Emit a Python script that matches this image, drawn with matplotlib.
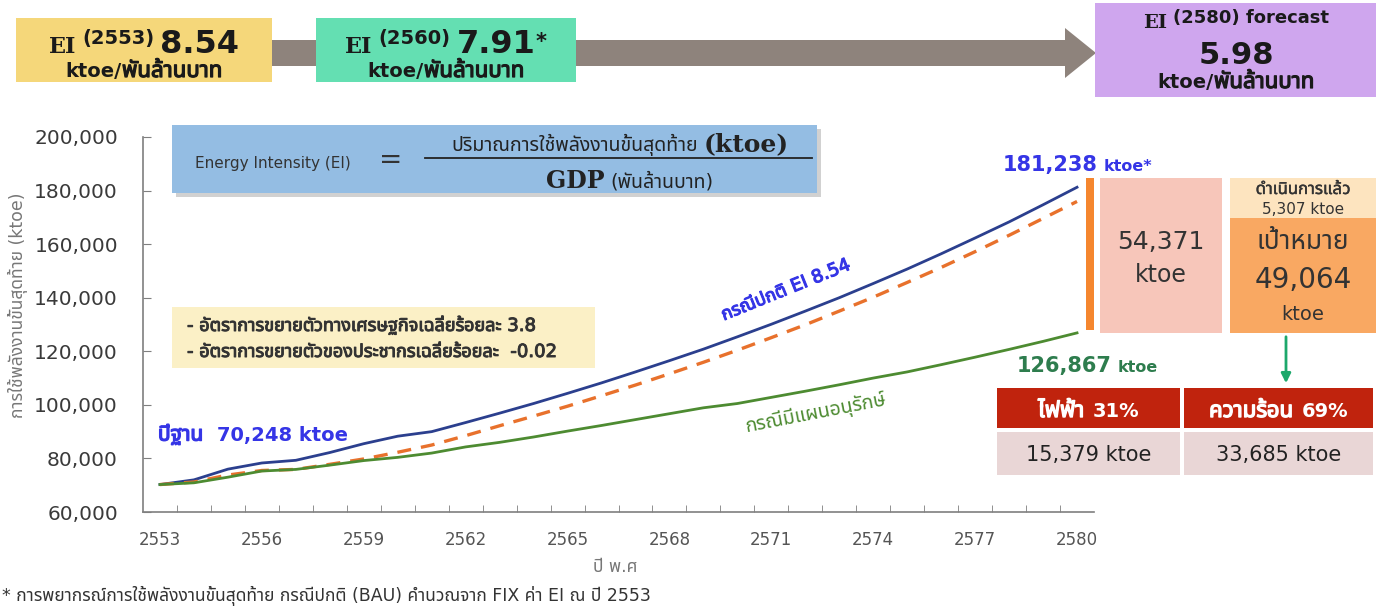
import matplotlib
matplotlib.use('Agg')
import numpy as np
import matplotlib.pyplot as plt
import matplotlib.font_manager as fm
import matplotlib.patheffects as pe
from matplotlib.ft2font import FT2Font
from matplotlib.patches import Rectangle, Polygon
from matplotlib.ticker import FuncFormatter

# data (ktoe per year, Thai Buddhist calendar)
years = list(range(2553, 2581))
bau = [70248, 72000, 76000, 78300, 79300, 82200, 85500, 88300, 90000, 93400,
       96900, 100500, 104300, 108200, 112300, 116500, 120800, 125400, 130100, 135000,
       140000, 145300, 150700, 156400, 162300, 168300, 174700, 181238]
target = [70248, 71200, 73800, 75500, 75900, 77800, 79800, 82300, 85000, 88500,
          92200, 95800, 99500, 103400, 107400, 111600, 115900, 120400, 125100, 129900,
          135000, 140200, 145700, 151300, 157200, 163300, 169600, 175931]
plan = [70248, 70900, 73000, 75300, 75900, 77500, 79200, 80400, 82000, 84300,
        86000, 88000, 90200, 92300, 94500, 96700, 98900, 100500, 102800, 105100,
        107500, 110000, 112300, 115000, 117800, 120700, 123700, 126867]

ei_values = ['8.54', '7.91', '5.98']
ei_years = ['2553', '2560', '2580']
saving_total = 54371
saving_done = 5307
saving_goal = 49064
split_labels = ['ไฟฟ้า', 'ความร้อน']
split_shares = ['31%', '69%']
split_values = [15379, 33685]


def find_thai():
    names = []
    for f in fm.fontManager.ttflist:
        try:
            if 0x0E01 in FT2Font(f.fname).get_charmap():
                names.append(f.name)
        except Exception:
            pass
    for pref in ['Noto Sans Thai', 'Noto Sans Thai UI', 'Loma', 'Tahoma', 'Garuda',
                 'Sarabun', 'Kinnari', 'Norasi', 'Noto Serif Thai']:
        if pref in names:
            return pref
    return names[0] if names else None


thai = find_thai()
SANS = ['DejaVu Sans'] + ([thai] if thai else [])
SERIF = ['DejaVu Serif'] + ([thai] if thai else [])
plt.rcParams['font.family'] = SANS

W, H = 1384, 607
fig = plt.figure(figsize=(W / 100, H / 100), dpi=100)
fig.patch.set_facecolor('white')

# main chart
ax = fig.add_axes([143 / W, 1 - 512 / H, 951 / W, 375 / H])
ax.patch.set_alpha(0)
ax.plot(years, bau, color='#2B3F8E', lw=2.0, zorder=3)
ax.plot(years, target, color='#E8712C', lw=2.4, ls=(0, (4.2, 3)), zorder=3)
ax.plot(years, plan, color='#4D8B31', lw=2.0, zorder=3)
ax.set_xlim(2552.5, 2580.5)
ax.set_ylim(60000, 200000)
ax.set_yticks(range(60000, 200001, 20000))
ax.yaxis.set_major_formatter(FuncFormatter(lambda v, p: f'{v:,.0f}'))
ax.set_xticks(range(2553, 2581, 3))
ax.set_xticks(np.arange(2553.5, 2580.5, 1), minor=True)
ax.tick_params(axis='x', which='major', length=0, pad=14, labelsize=12, labelcolor='#555555')
ax.tick_params(axis='x', which='minor', direction='in', length=5, color='#7f7f7f')
ax.tick_params(axis='y', direction='in', length=6, color='#7f7f7f', pad=18,
               labelsize=14.5, labelcolor='#3a3a3a')
for s in ['top', 'right']:
    ax.spines[s].set_visible(False)
for s in ['left', 'bottom']:
    ax.spines[s].set_color('#7f7f7f')
    ax.spines[s].set_linewidth(1.2)

# overlay in pixel coordinates
ov = fig.add_axes([0, 0, 1, 1], zorder=5)
ov.set_xlim(0, W)
ov.set_ylim(H, 0)
ov.axis('off')
ov.patch.set_alpha(0)


def fake_bold(color, w=0.8):
    return [pe.withStroke(linewidth=w, foreground=color)]


def chain(x, y, parts, ha='left', **kw):
    r = fig.canvas.get_renderer()
    objs = []
    total = 0
    for s, opts in parts:
        o = {**kw, **opts}
        dy = o.pop('dy', 0)
        gap = o.pop('gap', 0)
        fb = o.pop('fb', 0)
        if fb:
            o['path_effects'] = fake_bold(o.get('color', 'black'), fb)
        t = ov.text(0, y - dy, s, va='baseline', ha='left', **o)
        w = t.get_window_extent(r).width
        objs.append((t, gap, w))
        total += gap + w
    if ha == 'center':
        x -= total / 2
    elif ha == 'right':
        x -= total
    for t, gap, w in objs:
        x += gap
        t.set_x(x)
        x += w


def box(x0, y0, x1, y1, color, **kw):
    ov.add_patch(Rectangle((x0, y0), x1 - x0, y1 - y0, facecolor=color, edgecolor='none', **kw))


def to_px(x, y):
    px, py = ax.transData.transform((x, y))
    return px, H - py


unit = [('ktoe/', dict(size=14, weight='bold')), ('พันล้านบาท', dict(size=16, fb=0.9))]

# top arrow and EI boxes
ov.add_patch(Polygon([(272, 40), (1065, 40), (1065, 28), (1096, 53), (1065, 78), (1065, 66), (272, 66)],
                     closed=True, facecolor='#8E837C', edgecolor='none'))
box(16, 18, 272, 82, '#F5D77A')
box(316, 18, 576, 82, '#64DFB2')
box(1095, 3, 1376, 97, '#CFA6EE')
for cx, yr, val, star in [(144, ei_years[0], ei_values[0], ''), (446, ei_years[1], ei_values[1], '*')]:
    parts = [('EI', dict(family=SERIF, size=16, weight='bold')),
             (f'({yr})', dict(size=14, weight='bold', dy=9, gap=6)),
             (val, dict(size=23, weight='bold', gap=6))]
    if star:
        parts.append((star, dict(size=15, weight='bold', dy=5)))
    chain(cx, 53, parts, ha='center', color='#1a1a1a')
    chain(cx, 77, unit, ha='center', color='#1a1a1a')
chain(1236, 28, [('EI', dict(family=SERIF, size=14, weight='bold')),
                 (f'({ei_years[2]}) forecast', dict(size=13, weight='bold', dy=5, gap=6))],
      ha='center', color='#1a1a1a')
chain(1236, 64, [(ei_values[2], dict(size=22, weight='bold'))], ha='center', color='#1a1a1a')
chain(1236, 88, unit, ha='center', color='#1a1a1a')

# formula box
box(176, 129, 821, 197, '#9a9a9a', alpha=0.45)
box(172, 125, 817, 193, '#94BDE3')
chain(195, 168, [('Energy Intensity (EI)', dict(size=11)),
                 ('=', dict(size=20, gap=28))], color='#333333')
ov.plot([425, 812], [158, 158], color='#222222', lw=1.3)
chain(620, 151, [('ปริมาณการใช้พลังงานขั้นสุดท้าย', dict(size=14)),
                 ('(ktoe)', dict(family=SERIF, size=18, weight='bold', gap=6))],
      ha='center', color='#222222')
chain(630, 188, [('GDP', dict(family=SERIF, size=17, weight='bold')),
                 ('(พันล้านบาท)', dict(size=14, gap=6))], ha='center', color='#222222')

# assumptions box
box(172, 307, 595, 368, '#FBF0C6')
chain(187, 331, [('- อัตราการขยายตัวทางเศรษฐกิจเฉลี่ยร้อยละ 3.8', dict(size=13, fb=0.7))], color='#333333')
chain(187, 357, [('- อัตราการขยายตัวของประชากรเฉลี่ยร้อยละ  -0.02', dict(size=13, fb=0.7))], color='#333333')

# labels on the lines
blue_txt = '#3535E6'
x0, y0 = to_px(years[0], bau[0])
chain(x0 - 2, y0 - 44, [('ปีฐาน', dict(size=15, fb=1.0)),
                        (f'{bau[0]:,} ktoe', dict(size=14, weight='bold', gap=14))], color=blue_txt)
x1, y1 = to_px(years[-1], bau[-1])
chain(x1 - 74, y1 - 16, [(f'{bau[-1]:,}', dict(size=15, weight='bold')),
                         ('ktoe*', dict(size=11.5, weight='bold', gap=6))], color=blue_txt)
x2, y2 = to_px(years[-1], plan[-1])
chain(x2 - 60, y2 + 39, [(f'{plan[-1]:,}', dict(size=15, weight='bold')),
                         ('ktoe', dict(size=11.5, weight='bold', gap=6))], color='#2E7D4E')
ov.text(786, 290, 'กรณีปกติ EI 8.54', rotation=22, ha='center', va='center',
        size=13, color=blue_txt, rotation_mode='anchor', path_effects=fake_bold(blue_txt, 0.8))
ov.text(816, 413, 'กรณีมีแผนอนุรักษ์', rotation=11, ha='center', va='center',
        size=14, color='#4D8B31', rotation_mode='anchor')

# savings boxes on the right
box(1086, 178, 1094, 330, '#F5862E')
box(1100, 178, 1222, 333, '#F7C6BA')
chain(1161, 249, [(f'{saving_total:,}', dict(size=18))], ha='center', color='#333333')
chain(1161, 282, [('ktoe', dict(size=17))], ha='center', color='#333333')
box(1230, 178, 1376, 218, '#FDE4BF')
box(1230, 218, 1376, 333, '#F9A862')
chain(1303, 194, [('ดำเนินการแล้ว', dict(size=12, fb=0.3))], ha='center', color='#333333')
chain(1303, 214, [(f'{saving_done:,} ktoe', dict(size=11))], ha='center', color='#333333')
chain(1303, 249, [('เป้าหมาย', dict(size=19))], ha='center', color='#333333')
chain(1303, 288, [(f'{saving_goal:,}', dict(size=20))], ha='center', color='#333333')
chain(1303, 320, [('ktoe', dict(size=14))], ha='center', color='#333333')
ov.annotate('', xy=(1286, 386), xytext=(1286, 334),
            arrowprops=dict(arrowstyle='-|>', color='#1DA86B', lw=2, mutation_scale=14))

# split table
cols = [(997, 1180), (1184, 1373)]
for (a, b), lab, share, val in zip(cols, split_labels, split_shares, split_values):
    box(a, 388, b, 428, '#C0230D')
    box(a, 432, b, 475, '#E9D6D6')
    chain((a + b) / 2, 417, [(lab, dict(size=16, fb=1.0)),
                             (share, dict(size=14, weight='bold', gap=8))], ha='center', color='white')
    chain((a + b) / 2, 461, [(f'{val:,} ktoe', dict(size=15))], ha='center', color='#222222')

# axis titles and note
ov.text(18, 305, 'การใช้พลังงานขั้นสุดท้าย (ktoe)', rotation=90, ha='center', va='center',
        size=12.5, color='#777777')
ov.text(615, 567, 'ปี พ.ศ', ha='center', va='center', size=12.5, color='#777777')
ov.text(2, 601, '* การพยากรณ์การใช้พลังงานขั้นสุดท้าย กรณีปกติ (BAU) คำนวณจาก FIX ค่า EI ณ ปี 2553',
        ha='left', va='baseline', size=12.5, color='#333333')

fig.savefig('out.png', dpi=100)
